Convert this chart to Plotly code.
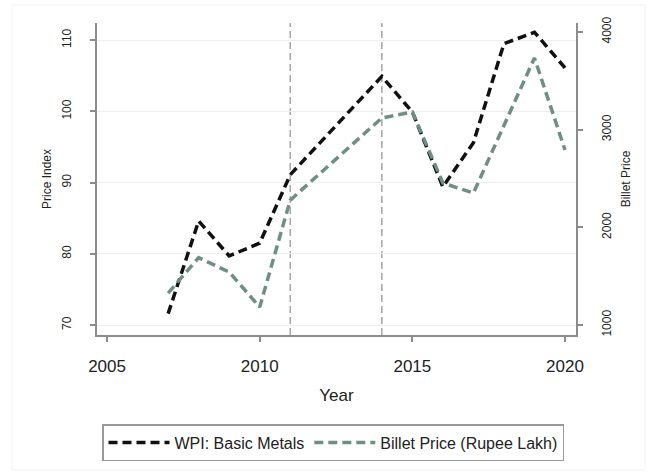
import plotly.graph_objects as go

# Wholesale price index for basic metals (left axis)
wpi_years = [2007, 2008, 2009, 2010, 2011, 2014, 2015, 2016, 2017, 2018, 2019, 2020]
wpi_values = [71.6, 84.6, 79.7, 81.5, 91.1, 104.9, 99.9, 89.4, 95.6, 109.5, 111.1, 106.1]

# Billet price in rupee lakh (right axis)
billet_years = [2007, 2008, 2009, 2010, 2011, 2014, 2015, 2016, 2017, 2019, 2020]
billet_values = [1327, 1690, 1542, 1184, 2279, 3120, 3181, 2454, 2351, 3734, 2792]

# Reference years marked with vertical lines
event_years = [2011, 2014]

x_ticks = [2005, 2010, 2015, 2020]
left_ticks = [70, 80, 90, 100, 110]
right_ticks = [1000, 2000, 3000, 4000]

FONT = "Liberation Sans, Arial, Helvetica, sans-serif"
TEXT = "#222222"
AXIS = "#8c8c8c"
GREEN = "#6f8f83"

fig = go.Figure()

fig.add_trace(go.Scatter(
    x=wpi_years, y=wpi_values, mode="lines", name="WPI: Basic Metals",
    line=dict(color="#111111", width=3.5, dash="9px,5px"),
    yaxis="y",
))
fig.add_trace(go.Scatter(
    x=billet_years, y=billet_values, mode="lines", name="Billet Price (Rupee Lakh)",
    line=dict(color=GREEN, width=3.5, dash="9px,5px"),
    yaxis="y2",
))

for yr in event_years:
    fig.add_shape(type="line", xref="x", yref="paper", x0=yr, x1=yr, y0=0, y1=1,
                  line=dict(color="#a6a6a6", width=1.5, dash="7px,4px"), layer="below")

# faint outer frame of the graph region
fig.add_shape(type="rect", xref="paper", yref="paper",
              x0=-85 / 479, x1=(645 - 97) / 479, y0=(335 - 470) / 312, y1=(335 - 5) / 312,
              line=dict(color="#f3f3f3", width=1), layer="below")

fig.update_layout(
    width=652, height=473,
    margin=dict(l=97, r=76, t=23, b=138, autoexpand=False),
    paper_bgcolor="white", plot_bgcolor="white",
    font=dict(family=FONT, color=TEXT),
    showlegend=True,
    legend=dict(
        orientation="h", x=(102 - 97) / 479, xanchor="left",
        y=(335 - 424) / 312, yanchor="top",
        bordercolor="#999999", borderwidth=1.5,
        font=dict(family=FONT, size=16, color=TEXT),
        itemwidth=61,
        bgcolor="white",
    ),
    xaxis=dict(
        range=[2004.67, 2020.36], tickvals=x_ticks,
        ticks="outside", ticklen=5, tickwidth=1.5, tickcolor=AXIS,
        showline=True, linecolor=AXIS, linewidth=1.5,
        showgrid=False, zeroline=False,
        tickfont=dict(size=17, color=TEXT), ticklabelstandoff=10,
        title=dict(text="Year", font=dict(size=17, color=TEXT), standoff=14),
    ),
    yaxis=dict(
        range=[68.6, 112.4], tickvals=left_ticks, tickangle=-90,
        ticks="outside", ticklen=5, tickwidth=1.5, tickcolor=AXIS,
        showline=True, linecolor=AXIS, linewidth=1.5,
        showgrid=True, gridcolor="#eeeeee", gridwidth=1, zeroline=False,
        tickfont=dict(size=12, color=TEXT), ticklabelstandoff=14,
        title=dict(text="Price Index", font=dict(size=12, color=TEXT), standoff=6),
    ),
    yaxis2=dict(
        range=[898, 4092], tickvals=right_ticks, tickangle=-90,
        overlaying="y", side="right",
        ticks="outside", ticklen=5, tickwidth=1.5, tickcolor=AXIS,
        showline=True, linecolor=AXIS, linewidth=1.5,
        showgrid=False, zeroline=False,
        tickfont=dict(size=12, color=TEXT), ticklabelstandoff=14,
        title=dict(text="Billet Price", font=dict(size=12, color=TEXT), standoff=8),
    ),
)

fig.write_html("out.html")
